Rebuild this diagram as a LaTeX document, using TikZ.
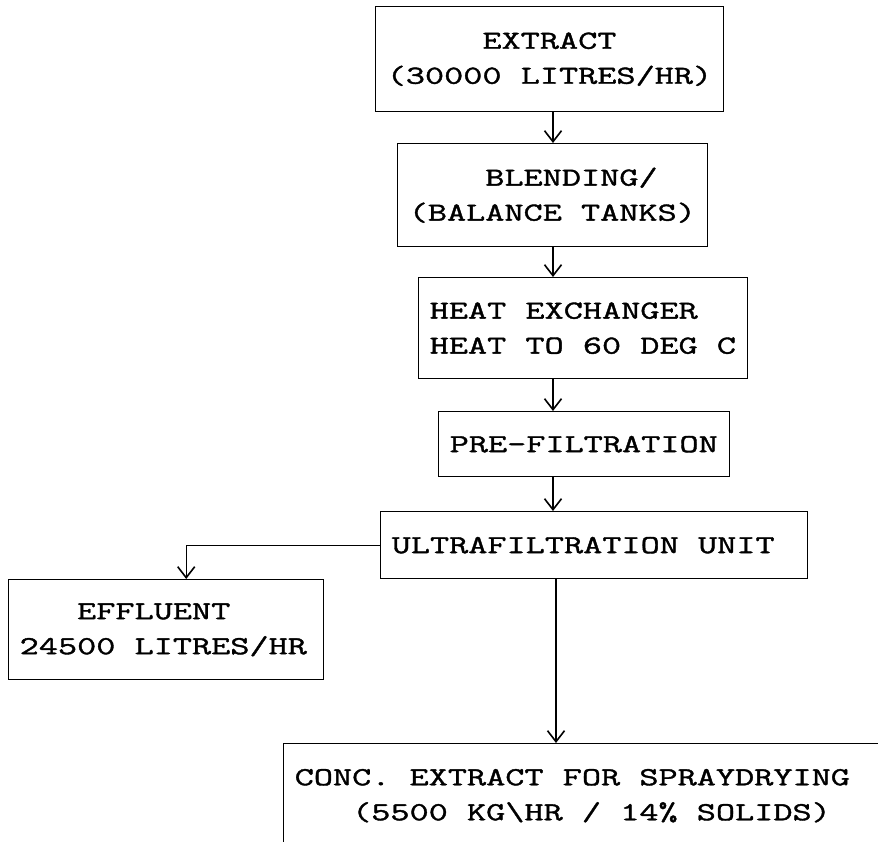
\documentclass[tikz,border=0pt]{standalone}
\usepackage{fontspec}
\newfontfamily\typew[FakeStretch=1.43,FakeBold=1.5]{Latin Modern Mono}
\newcommand\typeset{\typew\fontsize{26}{35}\selectfont}
\usetikzlibrary{arrows.meta,calc}

\begin{document}
\begin{tikzpicture}[x=1pt,y=-1pt,every node/.style={font=\typeset},
  box/.style={draw,line width=1.4pt,anchor=north west,align=left,inner xsep=11pt,inner ysep=0pt,
    execute at begin node={\spaceskip=\fontcharwd\font`0\relax\xspaceskip=\spaceskip}},
  arr/.style={-{Straight Barb[length=11pt,width=17pt,line width=1.6pt]},line width=1.4pt}]
\path[use as bounding box,clip] (0,0) rectangle (878,842);
\node[box,text width=326pt,minimum height=105pt] (ext) at (375,6) {\phantom{00000}EXTRACT\\(30000 LITRES/HR)};
\node[box,text width=288pt,minimum height=103pt] (blend) at (397,143) {\phantom{0000}BLENDING/\\(BALANCE TANKS)};
\node[box,text width=307pt,minimum height=101pt] (heat) at (418,277) {HEAT EXCHANGER\\HEAT TO 60 DEG C};
\node[box,text width=269pt,minimum height=65pt] (pre) at (438,411) {PRE-FILTRATION};
\node[box,text width=405pt,minimum height=67pt] (ultra) at (380,511) {ULTRAFILTRATION UNIT};
\node[box,text width=293pt,minimum height=100pt] (eff) at (8,579) {\phantom{000}EFFLUENT\\24500 LITRES/HR};
\node[box,text width=598pt,minimum height=104pt] (conc) at (283,743) {CONC. EXTRACT FOR SPRAYDRYING\\\phantom{000}(5500 KG\textbackslash HR / 14\% SOLIDS)};
\coordinate (spine) at (553,0);
\draw[arr] (spine |- ext.south)--(spine |- blend.north);\draw[arr] (spine |- blend.south)--(spine |- heat.north);
\draw[arr] (spine |- heat.south)--(spine |- pre.north);\draw[arr] (spine |- pre.south)--(spine |- ultra.north);
\draw[arr] ([xshift=3pt]spine |- ultra.south)--([xshift=3pt]spine |- conc.north);
\draw[arr] (ultra.west) -| ([xshift=20pt]eff.north);
\end{tikzpicture}
\end{document}
